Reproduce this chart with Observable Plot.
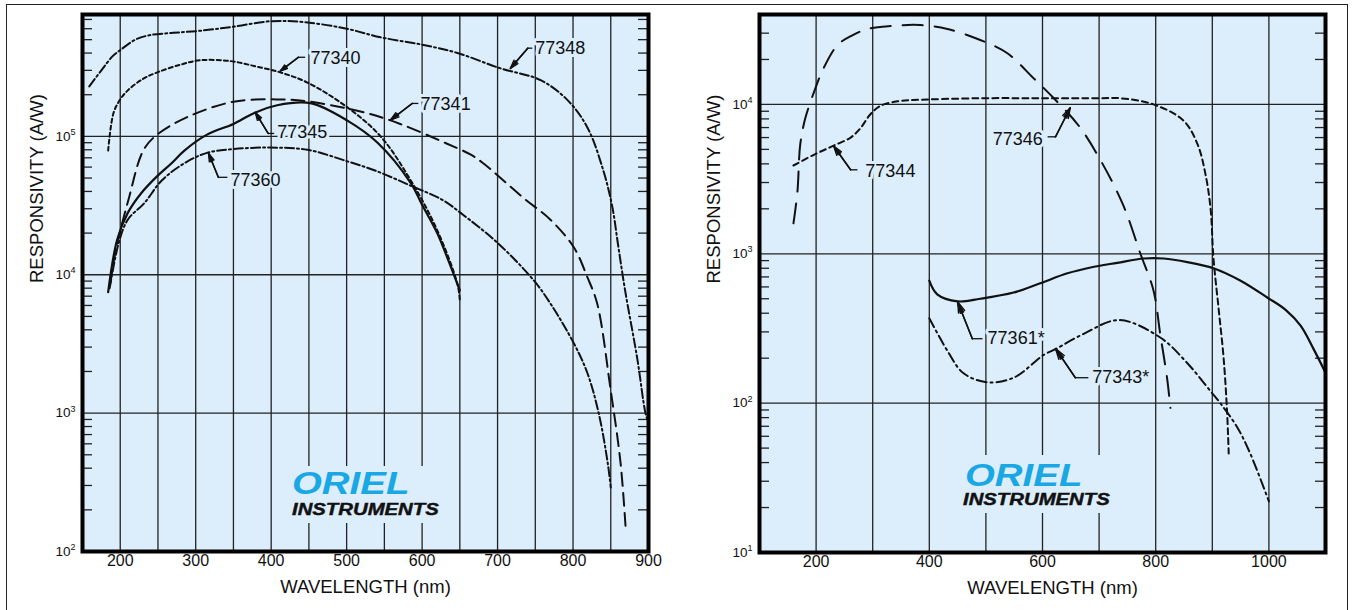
<!DOCTYPE html>
<html><head><meta charset="utf-8">
<script src="https://cdn.jsdelivr.net/npm/d3@7"></script>
<script src="https://cdn.jsdelivr.net/npm/@observablehq/plot@0.6"></script>
<style>
html,body{margin:0;padding:0;background:#fff;}
body{width:1354px;height:610px;position:relative;overflow:hidden;font-family:"Liberation Sans",Arial,sans-serif;}
#outer{position:absolute;left:6px;top:4px;width:1342px;height:640px;border:1.5px solid #222;box-sizing:border-box;}
.panel{position:absolute;top:0;}
.logo{position:absolute;background:#dcedfb;}
.oriel{position:absolute;font:italic 900 32px "Liberation Sans",Arial,sans-serif;color:#19a8e4;transform:scaleX(1.2);transform-origin:0 0;white-space:nowrap;line-height:0.8;}
.instr{position:absolute;font:italic 900 16px "Liberation Sans",Arial,sans-serif;color:#111;transform:scaleX(1.27);transform-origin:0 0;white-space:nowrap;line-height:1;-webkit-text-stroke:0.4px #111;}
</style>
</head><body>
<div id="outer"></div>
<div id="left" class="panel" style="left:0px"></div>
<div id="right" class="panel" style="left:680px"></div>
<div class="logo" style="left:288px;top:466px;width:156px;height:57px">
  <div class="oriel" style="left:4px;top:5px">ORIEL</div>
  <div class="instr" style="left:4px;top:36px">INSTRUMENTS</div>
</div>
<div class="logo" style="left:958px;top:455px;width:158px;height:58px">
  <div class="oriel" style="left:7px;top:8px">ORIEL</div>
  <div class="instr" style="left:5px;top:37px">INSTRUMENTS</div>
</div>
<script>
// ---------------- LEFT PANEL DATA ----------------
const xTicksLeft = [200, 300, 400, 500, 600, 700, 800, 900];
const xGridLeft = [200, 250, 300, 350, 400, 450, 500, 550, 600, 650, 700, 750, 800, 850];
const yTicksLeft = [1e2, 1e3, 1e4, 1e5];
const yTickLabelsLeft = ["10^2", "10^3", "10^4", "10^5"];

const nm77348 = [159,175,190,200,220,240,270,306,350,400,443,500,545,600,647,704,757,793,819,840,852,860,869,885,896,900];
const r77348  = [2.3e5,3.0e5,3.8e5,4.2e5,5.0e5,5.4e5,5.6e5,5.8e5,6.2e5,6.8e5,6.7e5,6.0e5,5.2e5,4.6e5,4.0e5,3.1e5,2.55e5,1.82e5,1.16e5,5.7e4,3.1e4,1.6e4,7.7e3,2.5e3,1.0e3,8.5e2];

const nm77340 = [184,191,200,210,230,249,280,306,346,380,412,448,501,545,585,620,647,650];
const r77340  = [7.9e4,1.47e5,1.85e5,2.15e5,2.6e5,2.9e5,3.3e5,3.55e5,3.5e5,3.2e5,2.9e5,2.45e5,1.62e5,1.0e5,4.8e4,2.1e4,8.5e3,6.5e3];

const nm77345 = [184,196,210,228,248,268,285,315,350,377,408,452,501,541,585,600,620,635,650];
const r77345  = [7.5e3,1.8e4,2.8e4,3.9e4,5.1e4,6.4e4,7.9e4,1.03e5,1.23e5,1.47e5,1.68e5,1.74e5,1.3e5,9.0e4,4.6e4,3.2e4,2.0e4,1.26e4,7.7e3];

const nm77341 = [187,194,211,231,249,289,350,408,452,527,571,624,664,681,734,770,801,819,832,850,863,870];
const r77341  = [8.7e3,1.5e4,3.5e4,8.0e4,1.03e5,1.38e5,1.78e5,1.85e5,1.78e5,1.47e5,1.23e5,9.3e4,7.4e4,6.4e4,3.6e4,2.5e4,1.58e4,9.6e3,6.2e3,1.45e3,4.35e2,1.4e2];

const nm77360 = [186,198,210,232,255,285,315,350,399,448,501,540,585,628,651,700,748,770,801,819,834,846,850];
const r77360  = [8e3,1.7e4,2.5e4,3.3e4,4.8e4,6.4e4,7.6e4,8.1e4,8.3e4,8.0e4,6.6e4,5.6e4,4.4e4,3.45e4,2.8e4,1.7e4,9.1e3,6.2e3,3.2e3,1.95e3,1.0e3,4.35e2,2.9e2];

const labelsLeft  = ["77340", "77345", "77341", "77360", "77348"];
const labelNmLeft = [452, 408, 598, 346, 750];
const labelRLeft  = [3.67e5, 1.07e5, 1.71e5, 4.8e4, 4.34e5];
const tailNmLeft  = [436, 396, 587, 330, 740];
const tailRLeft   = [3.73e5, 1.05e5, 1.73e5, 5.06e4, 4.34e5];
const stubNmLeft  = [445, 404, 595, 342, 746];
const tipNmLeft   = [412, 379, 558, 317, 717];
const tipRLeft    = [2.96e5, 1.49e5, 1.31e5, 7.55e4, 3.1e5];

// ---------------- RIGHT PANEL DATA ----------------
const xTicksRight = [200, 400, 600, 800, 1000];
const xGridRight = [200, 300, 400, 500, 600, 700, 800, 900, 1000];
const yTicksRight = [1e1, 1e2, 1e3, 1e4];
const yTickLabelsRight = ["10^1", "10^2", "10^3", "10^4"];

const nm77346 = [160,167,172,181,199,213,238,264,291,331,384,432,490,538,584,620,664,703,743,773,796,808,820,826];
const r77346  = [1.6e3,2.6e3,5.4e3,8.1e3,1.29e4,1.74e4,2.5e4,2.9e4,3.2e4,3.35e4,3.4e4,3.2e4,2.7e4,2.2e4,1.5e4,1.1e4,7.2e3,4.2e3,2.1e3,1.0e3,5.7e2,2.9e2,1.48e2,9.3e1];

const nm77344 = [160,196,231,261,278,296,314,344,372,490,600,702,738,796,849,874,888,897,902,911,920,926,929];
const r77344  = [3.9e3,4.6e3,5.3e3,6.0e3,6.9e3,8.6e3,9.8e3,1.05e4,1.07e4,1.1e4,1.1e4,1.1e4,1.1e4,1.0e4,7.8e3,5.4e3,3.4e3,2.0e3,9.4e2,4.35e2,2.0e2,8.9e1,4.6e1];

const nm77361 = [400,414,450,490,549,596,644,685,732,779,814,856,902,950,997,1030,1056,1079,1100];
const r77361  = [6.6e2,5.35e2,4.8e2,5.0e2,5.5e2,6.35e2,7.4e2,8.1e2,8.7e2,9.3e2,9.3e2,8.8e2,8.0e2,6.6e2,5.1e2,4.2e2,3.3e2,2.3e2,1.6e2];

const nm77343 = [400,432,460,502,549,602,623,672,735,808,856,897,915,944,967,1000];
const r77343  = [3.7e2,2.24e2,1.59e2,1.38e2,1.48e2,2.1e2,2.3e2,2.9e2,3.6e2,2.75e2,1.85e2,1.2e2,9.9e1,6.9e1,4.6e1,2.2e1];

const labelsRight  = ["77344", "77346", "77361*", "77343*"];
const labelNmRight = [287, 512, 503, 688];
const labelRRight  = [3.59e3, 5.87e3, 270, 148];
const tailNmRight  = [261, 623, 476, 658];
const tailRRight   = [3.65e3, 6.07e3, 270, 148];
const stubNmRight  = [273, 609, 494, 681];
const tipNmRight   = [231, 649, 450, 623];
const tipRRight    = [5.27e3, 9.5e3, 477, 232];

// ---------------- RENDERING ----------------
const BG = "#dcedfb";
const INK = "#111";

function minorTicks(lo, hi) {
  const out = [];
  for (let d = lo; d < hi; d *= 10) for (let m = 2; m <= 9; m++) if (d * m < hi) out.push(d * m);
  return out;
}

function panel(o) {
  const innerW = o.width - o.ml - o.mr;
  const minor = minorTicks(o.yDomain[0], o.yDomain[1]);
  const idx = d3.range(o.labels.length);
  const marks = [
    Plot.frame({fill: BG, stroke: null}),
    Plot.ruleX(o.xGrid, {stroke: "#222", strokeWidth: 1.3}),
    Plot.ruleY(o.yTicks.slice(1), {stroke: "#222", strokeWidth: 1.3}),
    Plot.ruleY(minor, {stroke: "#222", strokeWidth: 1.3, insetRight: innerW - 10}),
    Plot.ruleY(minor, {stroke: "#222", strokeWidth: 1.3, insetLeft: innerW - 10}),
  ];
  for (const s of o.series) {
    marks.push(Plot.line(s.nm.map((x, i) => ({x, y: s.r[i]})), {
      x: "x", y: "y", stroke: INK, strokeWidth: s.w, strokeDasharray: s.dash, curve: "catmull-rom"
    }));
  }
  marks.push(
    Plot.text(idx, {x: i => o.labelNm[i], y: i => o.labelR[i], text: i => o.labels[i],
      textAnchor: "start", fontSize: 18, fill: INK, stroke: BG, strokeWidth: 6, paintOrder: "stroke"}),
    Plot.link(idx, {x1: i => o.tailNm[i], x2: i => o.stubNm[i], y1: i => o.tailR[i], y2: i => o.tailR[i],
      stroke: INK, strokeWidth: 1.3}),
    Plot.arrow(idx, {x1: i => o.tailNm[i], y1: i => o.tailR[i], x2: i => o.tipNm[i], y2: i => o.tipR[i],
      stroke: INK, strokeWidth: 1.4, headLength: 12, headAngle: 34}),
    Plot.arrow(idx, {x1: i => o.tailNm[i], y1: i => o.tailR[i], x2: i => o.tipNm[i], y2: i => o.tipR[i],
      stroke: INK, strokeWidth: 1.6, headLength: 11, headAngle: 16}),
    Plot.frame({stroke: "#000", strokeWidth: 4}),
    Plot.text(o.xTicks, {x: d => d, text: d => String(d), frameAnchor: "bottom", dy: 14, fontSize: 16, fill: INK}),
    Plot.text(o.yTicks, {y: d => d, text: (d, i) => o.yTickLabels[i], frameAnchor: "left", dx: -7,
      textAnchor: "end", fontSize: 13.5, fill: INK}),
    Plot.text(["WAVELENGTH (nm)"], {text: d => d, frameAnchor: "bottom", dy: 41, dx: o.xTitleDx, fontSize: 18.5, fill: INK}),
    Plot.text(["RESPONSIVITY (A/W)"], {text: d => d, frameAnchor: "left", dx: -45, rotate: -90, fontSize: 18.5, fill: INK})
  );
  const svg = Plot.plot({
    width: o.width, height: 610,
    marginLeft: o.ml, marginRight: o.mr, marginTop: 14, marginBottom: o.mb,
    x: {domain: o.xDomain, axis: null},
    y: {type: "log", domain: o.yDomain, axis: null},
    style: {background: "transparent", fontFamily: "'Liberation Sans', Arial, sans-serif", overflow: "visible"},
    marks
  });
  svg.querySelectorAll("text").forEach(t => {
    if (t.children.length || !t.textContent.includes("^")) return;
    const [base, exp] = t.textContent.split("^");
    t.textContent = base;
    const ts = document.createElementNS("http://www.w3.org/2000/svg", "tspan");
    ts.setAttribute("font-size", "9");
    ts.setAttribute("dy", "-0.65em");
    ts.textContent = exp;
    t.appendChild(ts);
  });
  return svg;
}

document.getElementById("left").appendChild(panel({
  width: 680, ml: 82, mr: 32, mb: 59,
  xDomain: [150, 900], yDomain: [100, 7.6e5],
  xTicks: xTicksLeft, xGrid: xGridLeft, yTicks: yTicksLeft, yTickLabels: yTickLabelsLeft, xTitleDx: 0,
  series: [
    {nm: nm77348, r: r77348, dash: "9,3,2,3", w: 2},
    {nm: nm77340, r: r77340, dash: "4,3", w: 2},
    {nm: nm77345, r: r77345, dash: null, w: 2.2},
    {nm: nm77341, r: r77341, dash: "13,7", w: 2},
    {nm: nm77360, r: r77360, dash: "9,3,2,3", w: 2}
  ],
  labels: labelsLeft, labelNm: labelNmLeft, labelR: labelRLeft,
  tailNm: tailNmLeft, tailR: tailRLeft, stubNm: stubNmLeft, tipNm: tipNmLeft, tipR: tipRLeft
}));

document.getElementById("right").appendChild(panel({
  width: 674, ml: 79, mr: 29, mb: 58,
  xDomain: [100, 1100], yDomain: [10, 4e4],
  xTicks: xTicksRight, xGrid: xGridRight, yTicks: yTicksRight, yTickLabels: yTickLabelsRight, xTitleDx: 10,
  series: [
    {nm: nm77346, r: r77346, dash: "20,12", w: 2},
    {nm: nm77344, r: r77344, dash: "6,4", w: 2},
    {nm: nm77361, r: r77361, dash: null, w: 2.2},
    {nm: nm77343, r: r77343, dash: "10,4,2,4", w: 2}
  ],
  labels: labelsRight, labelNm: labelNmRight, labelR: labelRRight,
  tailNm: tailNmRight, tailR: tailRRight, stubNm: stubNmRight, tipNm: tipNmRight, tipR: tipRRight
}));
</script>
</body></html>
